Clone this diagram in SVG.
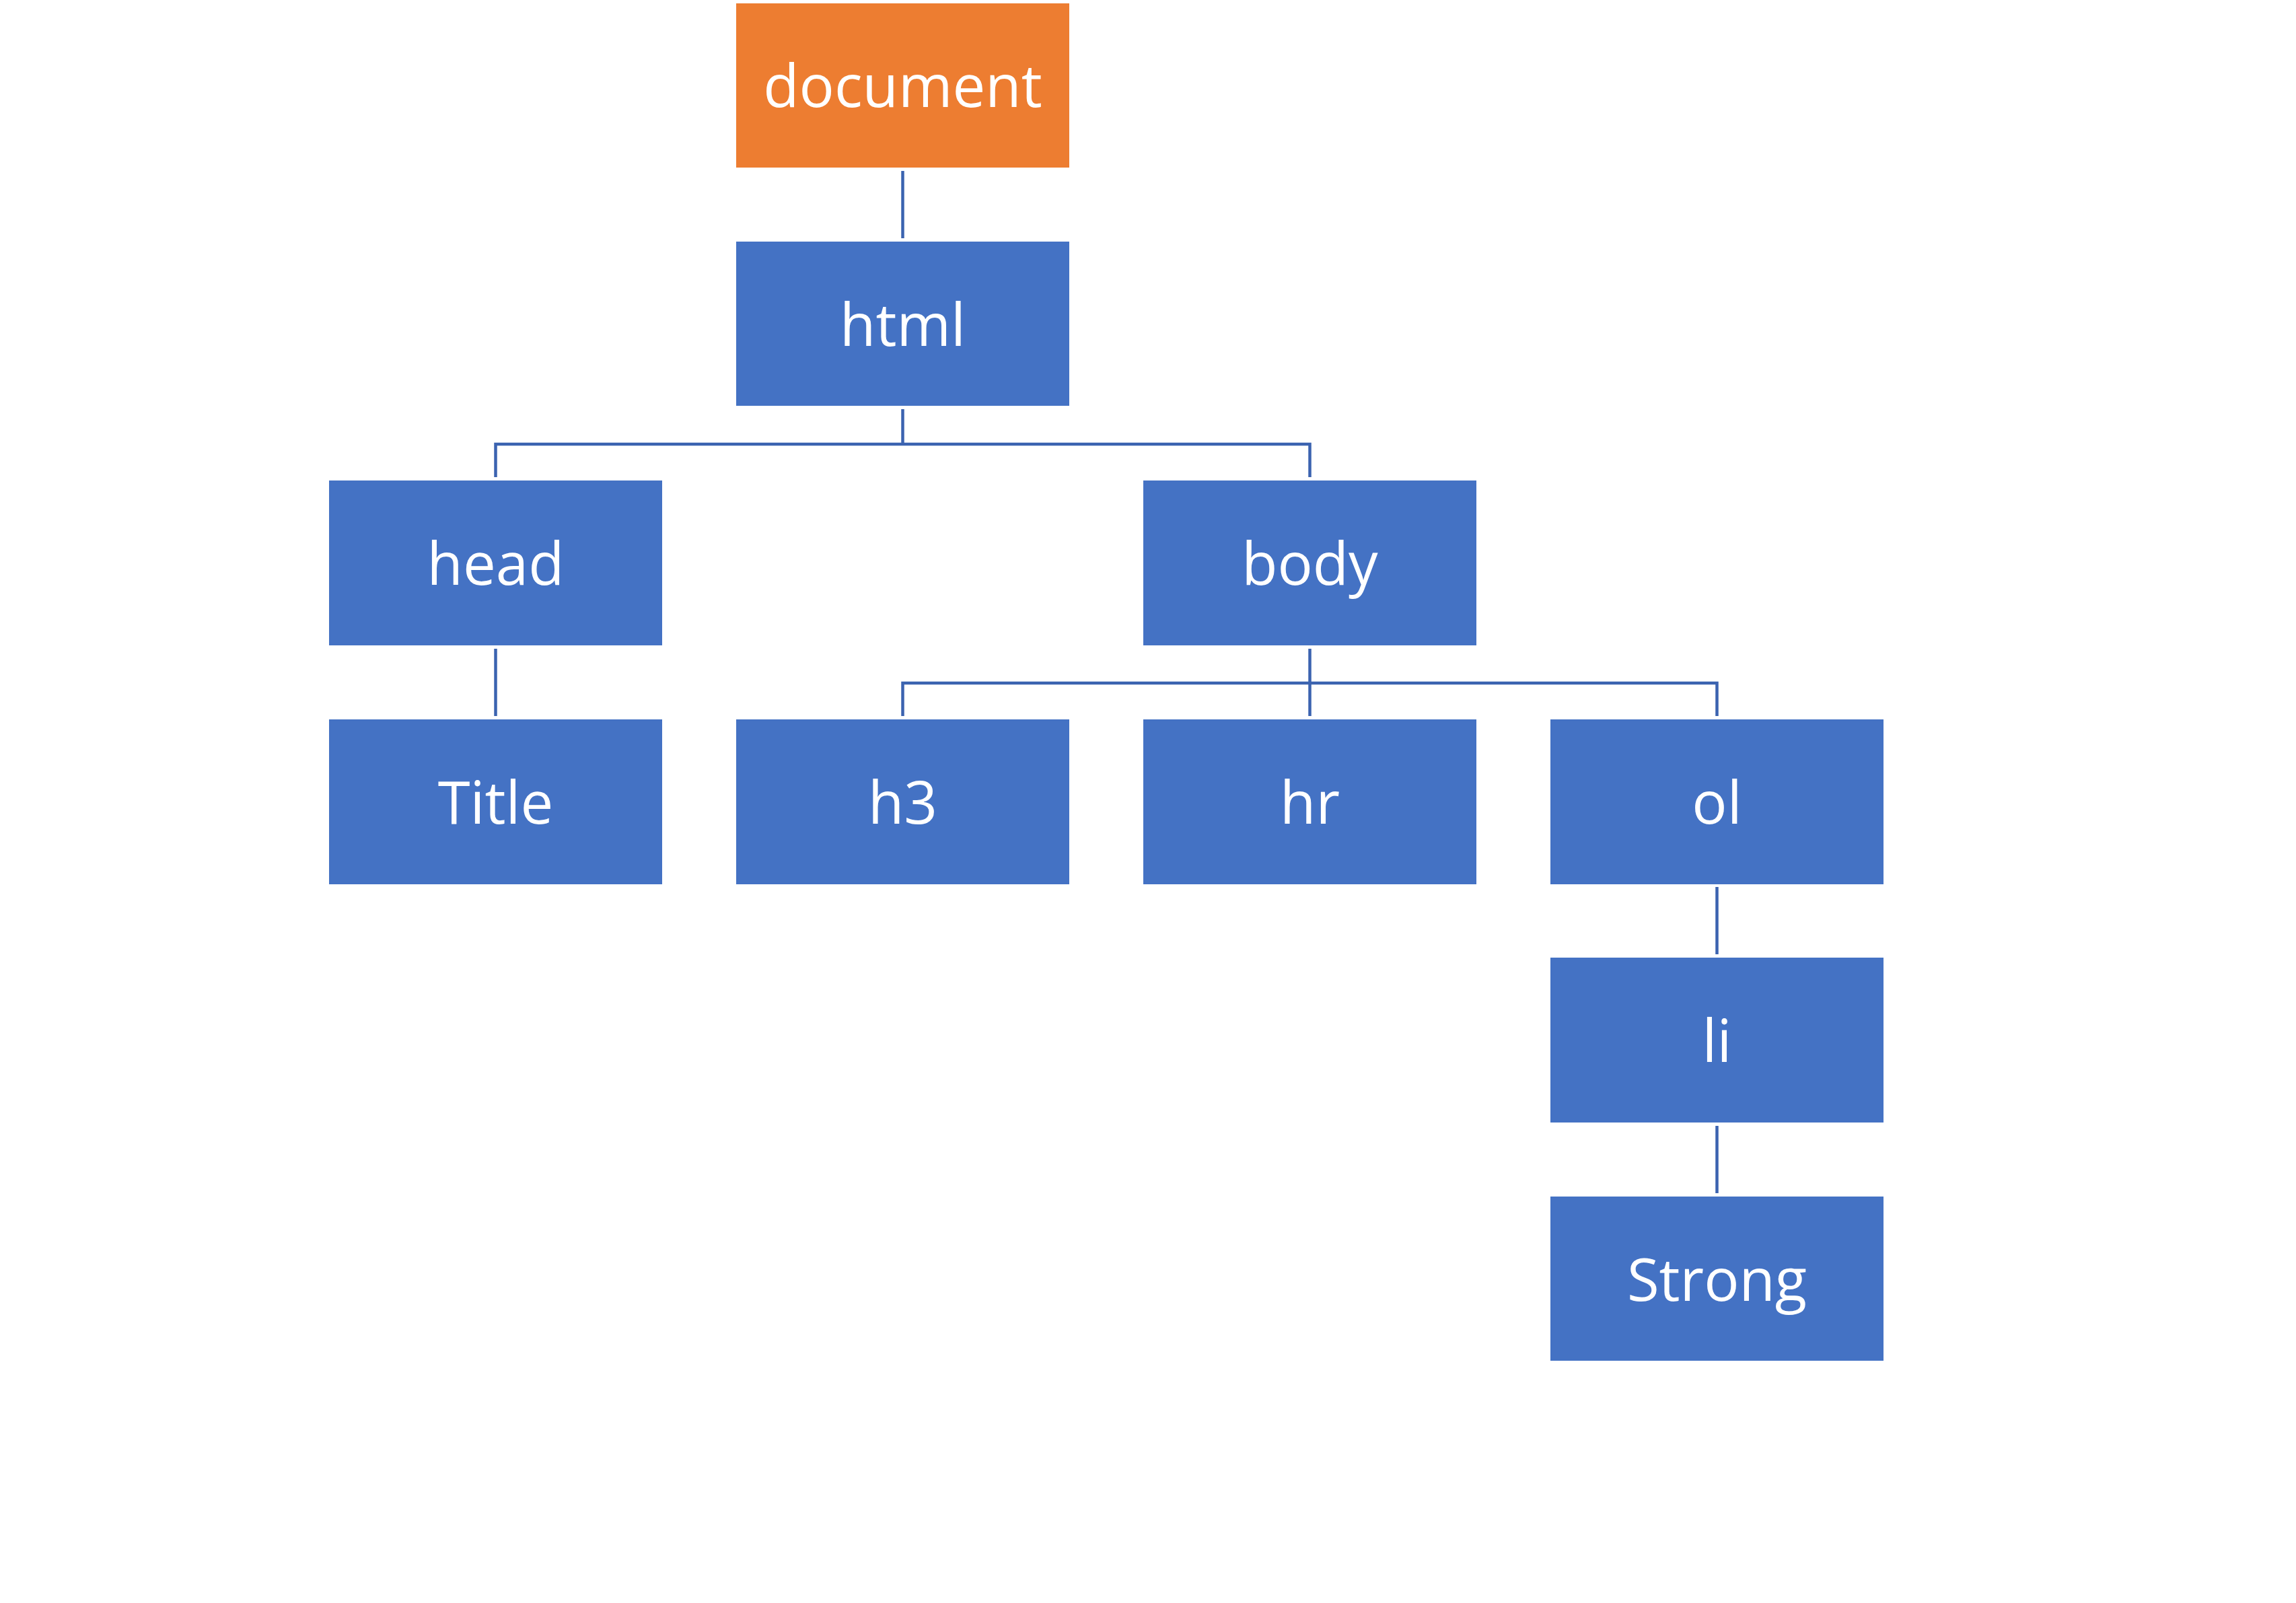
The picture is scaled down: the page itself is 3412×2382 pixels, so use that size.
<svg xmlns="http://www.w3.org/2000/svg" width="3412" height="2382" viewBox="0 0 3412 2382">
<style>
.box{fill:#4472C4}
.root{fill:#ED7D31}
.lbl{font-family:"Open Sans","Noto Sans",sans-serif;font-size:87px;fill:#FFFFFF;text-anchor:middle}
.con{fill:none;stroke:#3B63B0;stroke-width:4.5}
</style>
<rect width="3412" height="2382" fill="#FFFFFF"/>
<g id="connectors">
<path class="con" d="M1341.5 254 V354"/>
<path class="con" d="M1341.5 608 V660 M736.5 709 V660 H1946.5 V709"/>
<path class="con" d="M736.5 964 V1064"/>
<path class="con" d="M1946.5 964 V1064 M1341.5 1064 V1015 H2551.5 V1064"/>
<path class="con" d="M2551.5 1318 V1418"/>
<path class="con" d="M2551.5 1673 V1773"/>
</g>
<g id="document"><rect class="root" x="1094" y="5" width="495" height="244"/><text class="lbl" x="1341.5" y="159">document</text></g>
<g id="html"><rect class="box" x="1094" y="359" width="495" height="244"/><text class="lbl" x="1341.5" y="514">html</text></g>
<g id="head"><rect class="box" x="489" y="714" width="495" height="245"/><text class="lbl" x="736.5" y="869">head</text></g>
<g id="body"><rect class="box" x="1699" y="714" width="495" height="245"/><text class="lbl" x="1946.5" y="869">body</text></g>
<g id="title"><rect class="box" x="489" y="1069" width="495" height="245"/><text class="lbl" x="736.5" y="1224">Title</text></g>
<g id="h3"><rect class="box" x="1094" y="1069" width="495" height="245"/><text class="lbl" x="1341.5" y="1224">h3</text></g>
<g id="hr"><rect class="box" x="1699" y="1069" width="495" height="245"/><text class="lbl" x="1946.5" y="1224">hr</text></g>
<g id="ol"><rect class="box" x="2304" y="1069" width="495" height="245"/><text class="lbl" x="2551.5" y="1224">ol</text></g>
<g id="li"><rect class="box" x="2304" y="1423" width="495" height="245"/><text class="lbl" x="2551.5" y="1578">li</text></g>
<g id="strong"><rect class="box" x="2304" y="1778" width="495" height="244"/><text class="lbl" x="2551.5" y="1933">Strong</text></g>
</svg>
